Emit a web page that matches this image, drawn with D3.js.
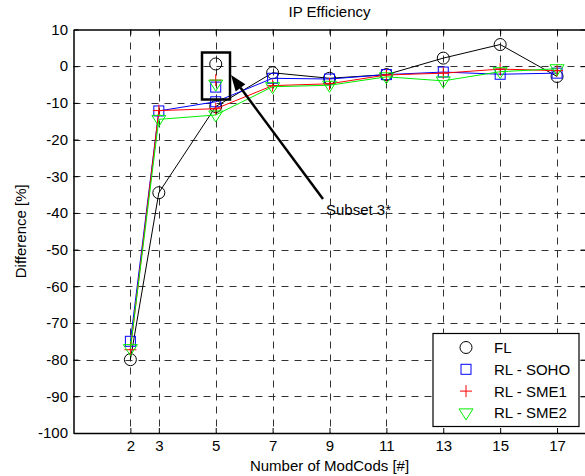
<!DOCTYPE html>
<html>
<head>
<meta charset="utf-8">
<script src="https://cdn.jsdelivr.net/npm/d3@7"></script>
<style>
  body { margin: 0; background: #fff; }
  svg { display: block; font-family: "Liberation Sans", Arial, sans-serif; }
</style>
</head>
<body>
<svg id="chart" width="585" height="476"></svg>
<script>
// values
const modcods = [2, 3, 5, 7, 9, 11, 13, 15, 17]
const flValues   = [-80, -34.5, -11, -1.8, -3.3, -2.3, 2.2, 5.9, -2.8]
const sohoValues = [-75, -12.2, -9.7, -3.3, -3.5, -2.3, -1.6, -2.2, -1.9]
const sme1Values = [-77.3, -12.1, -11.6, -5.3, -4.8, -2.4, -1.9, -0.8, -1.2]
const sme2Values = [-77, -14.5, -13.3, -5.6, -5.2, -2.9, -4, -1.5, -0.7]
const yTicks = [10, 0, -10, -20, -30, -40, -50, -60, -70, -80, -90, -100]
const seriesNames = ["FL", "RL - SOHO", "RL - SME1", "RL - SME2"]
// extra "Subset 3*" markers at 5 ModCods
const subsetX = 5
const subsetValues = [0.6, -5.7, -3.8, -4.9]

const svg = d3.select("#chart")
const plotL = 73.5, plotR = 585.5, plotT = 29.5, plotB = 433
const fs = 15

const x = d3.scaleLinear().domain([0, 18]).range([plotL, plotR])
const y = d3.scaleLinear().domain([-100, 10]).range([plotB, plotT])

const colors = ["#000000", "#0000ff", "#ff0000", "#00ee00"]
const shapes = ["circle", "square", "plus", "triangle"]

// grid
const grid = svg.append("g").attr("stroke", "#333").attr("stroke-width", 1)
                .attr("stroke-dasharray", "7,6")
grid.selectAll(".gx").data(modcods).join("line")
    .attr("x1", d => Math.round(x(d)) + 0.5).attr("x2", d => Math.round(x(d)) + 0.5)
    .attr("y1", plotT).attr("y2", plotB)
grid.selectAll(".gy").data(yTicks.slice(1, -1)).join("line")
    .attr("x1", plotL).attr("x2", plotR)
    .attr("y1", d => Math.round(y(d)) + 0.5).attr("y2", d => Math.round(y(d)) + 0.5)

// axes (matlab style: ticks inside, box)
svg.append("g").attr("transform", `translate(${plotL},0)`)
   .call(d3.axisLeft(y).tickValues(yTicks).tickFormat(d => String(d))
           .tickSizeInner(-5).tickSizeOuter(0).tickPadding(5.5))
svg.append("g").attr("transform", `translate(0,${plotB})`)
   .call(d3.axisBottom(x).tickValues(modcods).tickFormat(d => String(d))
           .tickSizeInner(-5).tickSizeOuter(0).tickPadding(7))
svg.append("g").attr("transform", `translate(0,${plotT})`)
   .call(d3.axisTop(x).tickValues(modcods).tickSizeInner(-5).tickSizeOuter(0).tickFormat(""))
svg.append("g").attr("transform", `translate(${plotR},0)`)
   .call(d3.axisRight(y).tickValues(yTicks).tickSizeInner(-5).tickSizeOuter(0).tickFormat(""))

svg.selectAll(".domain").attr("stroke", "#000").attr("stroke-width", 1.5)
svg.selectAll(".tick line").attr("stroke", "#000")
svg.selectAll(".tick text").attr("font-size", fs).attr("fill", "#000")
   .attr("font-family", "Liberation Sans, Arial, sans-serif")

// labels
svg.append("text").attr("x", (plotL + plotR) / 2).attr("y", 17)
   .attr("text-anchor", "middle").attr("font-size", fs).text("IP Efficiency")
svg.append("text").attr("x", (plotL + plotR) / 2).attr("y", 471)
   .attr("text-anchor", "middle").attr("font-size", fs).text("Number of ModCods [#]")
svg.append("text").attr("transform", `translate(26,${(plotT + plotB) / 2}) rotate(-90)`)
   .attr("text-anchor", "middle").attr("font-size", fs).text("Difference [%]")

// markers
function marker(g, shape, color, cx, cy) {
    if (shape === "circle") {
        g.append("circle").attr("cx", cx).attr("cy", cy).attr("r", 6)
         .attr("fill", "none").attr("stroke", color)
    } else if (shape === "square") {
        g.append("rect").attr("x", cx - 5).attr("y", cy - 5).attr("width", 10).attr("height", 10)
         .attr("fill", "none").attr("stroke", color)
    } else if (shape === "plus") {
        g.append("path").attr("d", `M${cx - 6},${cy}H${cx + 6}M${cx},${cy - 6}V${cy + 6}`)
         .attr("fill", "none").attr("stroke", color)
    } else {
        g.append("path").attr("d", `M${cx - 7},${cy - 4}H${cx + 7}L${cx},${cy + 7}Z`)
         .attr("fill", "none").attr("stroke", color)
    }
}

const allSeries = [flValues, sohoValues, sme1Values, sme2Values]
const line = d3.line().x((d, i) => x(modcods[i])).y(d => y(d))
const plot = svg.append("g")

allSeries.forEach((vals, k) => {
    const g = plot.append("g")
    g.append("path").datum(vals).attr("d", line)
     .attr("fill", "none").attr("stroke", colors[k]).attr("stroke-width", 1)
    vals.forEach((v, i) => marker(g, shapes[k], colors[k], x(modcods[i]), y(v)))
})

// subset 3* markers, box and arrow
subsetValues.forEach((v, k) => marker(plot, shapes[k], colors[k], x(subsetX), y(v)))

svg.append("rect").attr("x", 202).attr("y", 52.5).attr("width", 28).attr("height", 47)
   .attr("fill", "none").attr("stroke", "#000").attr("stroke-width", 2.5)

const tail = [323, 199], head = [231, 75]
const ang = Math.atan2(head[1] - tail[1], head[0] - tail[0])
const ah = 16, aw = 6
const bx = head[0] - ah * Math.cos(ang), by = head[1] - ah * Math.sin(ang)
svg.append("line").attr("x1", tail[0]).attr("y1", tail[1]).attr("x2", bx).attr("y2", by)
   .attr("stroke", "#000").attr("stroke-width", 2.5)
svg.append("path")
   .attr("d", `M${head[0]},${head[1]}L${bx + aw * Math.sin(ang)},${by - aw * Math.cos(ang)}L${bx - aw * Math.sin(ang)},${by + aw * Math.cos(ang)}Z`)
   .attr("fill", "#000")
svg.append("text").attr("x", 326).attr("y", 215).attr("font-size", fs).text("Subset 3*")

// legend
const lg = svg.append("g")
lg.append("rect").attr("x", 433).attr("y", 333.5).attr("width", 146).attr("height", 93)
  .attr("fill", "#fff").attr("stroke", "#000").attr("stroke-width", 1.2)
seriesNames.forEach((name, k) => {
    const cy = 347.5 + k * 21.8
    marker(lg, shapes[k], colors[k], 466, cy)
    lg.append("text").attr("x", 494).attr("y", cy + 5.4).attr("font-size", fs).text(name)
})
</script>
</body>
</html>
